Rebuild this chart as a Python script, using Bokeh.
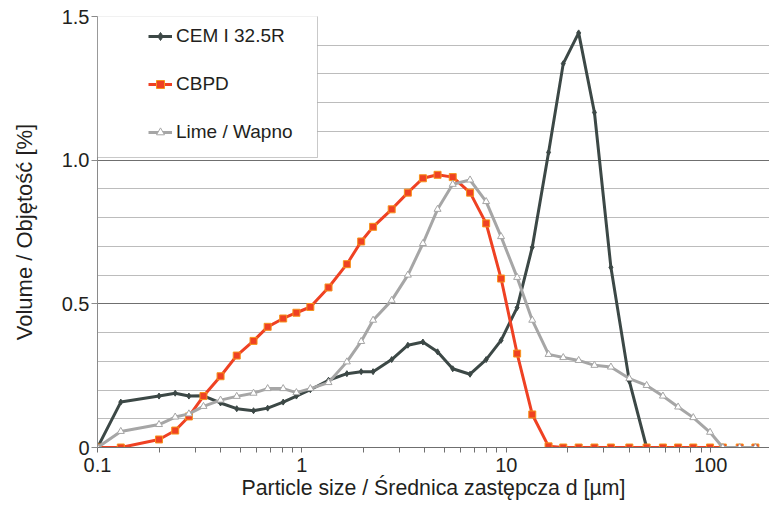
from bokeh.plotting import figure
from bokeh.models import (Range1d, FixedTicker, CustomJSTickFormatter, Legend,
                          LegendItem, BoxAnnotation)
from bokeh.embed import file_html
from bokeh.resources import INLINE

# ---------------- data ----------------
d_um = [0.1, 0.13, 0.2, 0.24, 0.28, 0.33, 0.4, 0.48, 0.58, 0.68, 0.81, 0.94,
        1.1, 1.35, 1.66, 1.95, 2.23, 2.75, 3.3, 3.91, 4.61, 5.47, 6.65, 7.97,
        9.43, 11.3, 13.4, 16.1, 19.0, 22.6, 27.0, 32.5, 40.0, 48.6, 58.4,
        69.3, 82.2, 99.3, 114.7, 138.7, 165.5]

cem = [0, 0.158, 0.179, 0.189, 0.179, 0.180, 0.155, 0.135, 0.128, 0.137,
       0.158, 0.179, 0.201, 0.234, 0.257, 0.264, 0.264, 0.306, 0.356, 0.367,
       0.333, 0.274, 0.255, 0.306, 0.373, 0.487, 0.697, 1.027, 1.336, 1.443,
       1.166, 0.627, 0.231, 0, 0, 0, 0, 0, 0, 0, 0]

cbpd = [0, 0, 0.028, 0.059, 0.108, 0.179, 0.248, 0.320, 0.371, 0.420, 0.449,
        0.469, 0.489, 0.557, 0.638, 0.717, 0.768, 0.829, 0.887, 0.937, 0.949,
        0.941, 0.887, 0.780, 0.588, 0.327, 0.115, 0.004, 0, 0, 0, 0, 0, 0,
        0, 0, 0, 0, 0, 0, 0]

lime = [0, 0.056, 0.080, 0.106, 0.117, 0.143, 0.165, 0.178, 0.189, 0.205,
        0.205, 0.191, 0.205, 0.226, 0.298, 0.369, 0.443, 0.512, 0.600, 0.710,
        0.829, 0.916, 0.931, 0.856, 0.734, 0.592, 0.443, 0.324, 0.313, 0.303,
        0.286, 0.280, 0.240, 0.216, 0.179, 0.141, 0.104, 0.053, 0, 0, 0]

series_names = ["CEM I 32.5R", "CBPD", "Lime / Wapno"]

x_major_ticks = [0.1, 1, 10, 100]
x_minor_ticks = [0.2, 0.3, 0.4, 0.5, 0.6, 0.7, 0.8, 0.9,
                 2, 3, 4, 5, 6, 7, 8, 9,
                 20, 30, 40, 50, 60, 70, 80, 90, 200]
y_major_ticks = [0, 0.5, 1.0, 1.5]
y_minor_ticks = [0.1, 0.2, 0.3, 0.4, 0.6, 0.7, 0.8, 0.9,
                 1.1, 1.2, 1.3, 1.4]

x_title = "Particle size / Średnica zastępcza d [µm]"
y_title = "Volume / Objętość [%]"

# ---------------- styling ----------------
FONT = "Liberation Sans"
TEXT = "#231f20"
C_CEM = "#3c4846"
C_CBPD = "#ef4123"
C_LIME = "#a6a6a6"

p = figure(width=769, height=509, x_axis_type="log",
           x_range=Range1d(0.1, 194), y_range=Range1d(0, 1.5),
           output_backend="svg", toolbar_location=None,
           min_border_left=97, min_border_right=0,
           min_border_top=16, min_border_bottom=62)
p.outline_line_color = None
p.background_fill_color = "white"
p.border_fill_color = "white"

# grid
p.xgrid.visible = False
p.ygrid.grid_line_color = "#6f6f6f"
p.ygrid.grid_line_width = 1
p.ygrid.minor_grid_line_color = "#bcbcbc"
p.ygrid.minor_grid_line_width = 1

# x axis
xa = p.xaxis[0]
xa.ticker = FixedTicker(ticks=x_major_ticks, minor_ticks=x_minor_ticks)
xa.formatter = CustomJSTickFormatter(code="return tick.toString();")
xa.axis_line_color = "#6f6f6f"
xa.major_tick_line_color = "#6f6f6f"
xa.minor_tick_line_color = "#6f6f6f"
xa.major_tick_out = 5
xa.major_tick_in = 0
xa.minor_tick_out = 5
xa.minor_tick_in = 0
xa.major_label_standoff = 5
xa.major_label_text_font = FONT
xa.major_label_text_font_size = "20px"
xa.major_label_text_color = TEXT
xa.axis_label = x_title
xa.axis_label_text_font = FONT
xa.axis_label_text_font_size = "21.3px"
xa.axis_label_text_font_style = "normal"
xa.axis_label_text_color = TEXT
xa.axis_label_standoff = 1

# y axis
ya = p.yaxis[0]
ya.ticker = FixedTicker(ticks=y_major_ticks, minor_ticks=y_minor_ticks)
ya.formatter = CustomJSTickFormatter(
    code="return tick == 0 ? '0' : tick.toFixed(1);")
ya.axis_line_color = "#8a8a8a"
ya.major_tick_line_color = "#8a8a8a"
ya.minor_tick_line_color = None
ya.major_tick_out = 6
ya.major_tick_in = 0
ya.major_label_standoff = 2
ya.major_label_text_font = FONT
ya.major_label_text_font_size = "20px"
ya.major_label_text_color = TEXT
ya.axis_label = y_title
ya.axis_label_text_font = FONT
ya.axis_label_text_font_size = "22px"
ya.axis_label_text_font_style = "normal"
ya.axis_label_text_color = TEXT
ya.axis_label_standoff = 22

# series
r_cem_l = p.line(d_um, cem, line_color=C_CEM, line_width=3)
r_cem_m = p.scatter(d_um, cem, marker="diamond", size=6,
                    fill_color=C_CEM, line_color=C_CEM)
r_cbpd_l = p.line(d_um, cbpd, line_color=C_CBPD, line_width=3)
r_cbpd_m = p.scatter(d_um, cbpd, marker="square", size=7,
                     fill_color=C_CBPD, line_color="#f7941d", line_width=1)
r_lime_l = p.line(d_um, lime, line_color=C_LIME, line_width=3)
r_lime_m = p.scatter(d_um, lime, marker="triangle", size=7,
                     fill_color="white", line_color=C_LIME, line_width=1)

# legend frame
box = BoxAnnotation(left=0, right=220, bottom=290, top=431.5,
                    left_units="screen", right_units="screen",
                    bottom_units="screen", top_units="screen",
                    fill_color="white", fill_alpha=1.0,
                    line_color="#4d4d4d", line_width=1)
p.add_layout(box)

legend = Legend(items=[
    LegendItem(label=series_names[0], renderers=[r_cem_l, r_cem_m]),
    LegendItem(label=series_names[1], renderers=[r_cbpd_l, r_cbpd_m]),
    LegendItem(label=series_names[2], renderers=[r_lime_l, r_lime_m]),
], location=(41, 294), padding=10, spacing=26, margin=0,
    label_height=20, glyph_height=20, glyph_width=24, label_standoff=4,
    border_line_alpha=0, background_fill_alpha=0,
    label_text_font=FONT, label_text_font_size="19px",
    label_text_color=TEXT)
p.add_layout(legend)

open("out.html", "w").write(file_html(p, INLINE))
